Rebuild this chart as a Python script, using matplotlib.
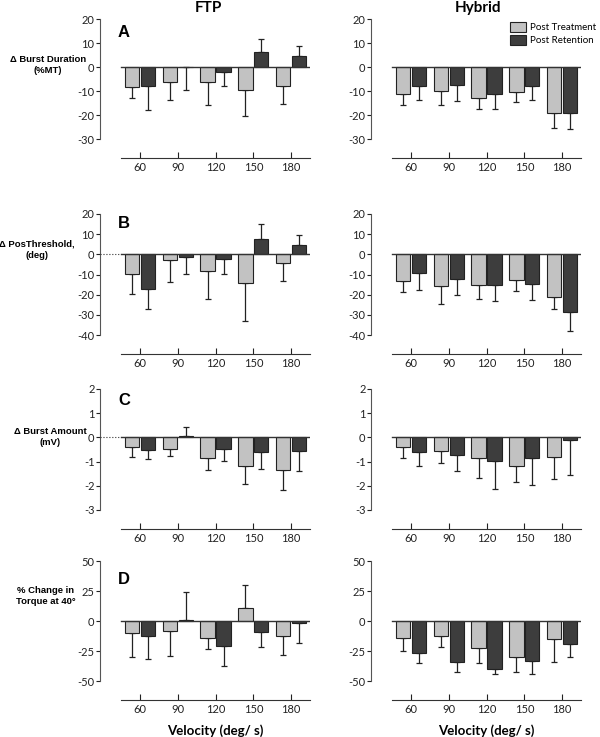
import numpy as np
import matplotlib
matplotlib.use('Agg')
import matplotlib.pyplot as plt
from matplotlib.patches import Patch

plt.rcParams['axes.unicode_minus'] = False

velocity = [60, 90, 120, 150, 180]

# A - burst duration (%MT), mean and SD
dur_ftp_treat = [-8.2, -6.4, -6.4, -9.7, -7.9]
dur_ftp_treat_sd = [4.5, 7.5, 9.3, 10.9, 7.7]
dur_ftp_ret = [-7.9, -0.2, -2.1, 6.2, 4.4]
dur_ftp_ret_sd = [9.8, 9.2, 5.9, 5.6, 4.5]
dur_hyb_treat = [-11.4, -10.0, -12.7, -10.5, -19.0]
dur_hyb_treat_sd = [4.3, 5.7, 4.6, 4.2, 6.5]
dur_hyb_ret = [-7.9, -7.5, -11.2, -8.0, -19.0]
dur_hyb_ret_sd = [5.7, 6.6, 6.1, 5.6, 7.0]

# B - pos threshold (deg)
thr_ftp_treat = [-9.5, -3.0, -8.5, -14.4, -4.5]
thr_ftp_treat_sd = [10.2, 10.9, 13.7, 18.8, 8.8]
thr_ftp_ret = [-17.4, -1.5, -2.2, 7.8, 4.5]
thr_ftp_ret_sd = [9.5, 8.4, 7.3, 7.1, 5.0]
thr_hyb_treat = [-13.4, -15.6, -15.4, -12.8, -21.1]
thr_hyb_treat_sd = [5.3, 9.1, 6.5, 5.6, 5.8]
thr_hyb_ret = [-9.1, -12.3, -15.1, -14.8, -28.4]
thr_hyb_ret_sd = [8.5, 8.1, 7.8, 7.6, 9.6]

# C - burst amount (mV)
amt_ftp_treat = [-0.41, -0.47, -0.86, -1.20, -1.37]
amt_ftp_treat_sd = [0.42, 0.32, 0.47, 0.72, 0.81]
amt_ftp_ret = [-0.54, 0.04, -0.48, -0.59, -0.55]
amt_ftp_ret_sd = [0.37, 0.37, 0.50, 0.71, 0.85]
amt_hyb_treat = [-0.41, -0.57, -0.86, -1.20, -0.83]
amt_hyb_treat_sd = [0.43, 0.51, 0.83, 0.66, 0.90]
amt_hyb_ret = [-0.62, -0.73, -0.97, -0.87, -0.12]
amt_hyb_ret_sd = [0.55, 0.65, 1.17, 1.12, 1.44]

# D - % change in torque at 40 deg
trq_ftp_treat = [-10.0, -8.6, -13.9, 10.6, -12.2]
trq_ftp_treat_sd = [20.3, 20.8, 9.7, 19.7, 15.9]
trq_ftp_ret = [-12.2, 0.5, -20.6, -8.9, -1.5]
trq_ftp_ret_sd = [19.8, 23.7, 16.6, 12.5, 16.8]
trq_hyb_treat = [-13.9, -12.2, -22.5, -29.7, -14.7]
trq_hyb_treat_sd = [11.4, 9.2, 12.2, 13.1, 19.2]
trq_hyb_ret = [-26.4, -33.9, -40.3, -33.1, -18.9]
trq_hyb_ret_sd = [8.3, 8.3, 3.6, 10.8, 10.8]

light = '#c2c2c2'
dark = '#3d3d3d'
edge = '#222222'
W, H = 600, 737

fig = plt.figure(figsize=(W / 100, H / 100), dpi=100)

def px_axes(left, top, right, bottom):
    return fig.add_axes([left / W, 1 - bottom / H, (right - left) / W, (bottom - top) / H])

# layout per row: axes top px, bottom px, yticks, ylim bottom, letter, letter top px, dotted zero
rows = [
    (19, 158, [-30, -20, -10, 0, 10, 20], -37.9, 'A', 25, False),
    (214, 354, [-40, -30, -20, -10, 0, 10, 20], -49.4, 'B', 216, True),
    (389, 529, [-3, -2, -1, 0, 1, 2], -3.79, 'C', 393, True),
    (561, 700, [-50, -25, 0, 25, 50], -65.8, 'D', 572, False),
]
data = [
    [(dur_ftp_treat, dur_ftp_treat_sd, dur_ftp_ret, dur_ftp_ret_sd),
     (dur_hyb_treat, dur_hyb_treat_sd, dur_hyb_ret, dur_hyb_ret_sd)],
    [(thr_ftp_treat, thr_ftp_treat_sd, thr_ftp_ret, thr_ftp_ret_sd),
     (thr_hyb_treat, thr_hyb_treat_sd, thr_hyb_ret, thr_hyb_ret_sd)],
    [(amt_ftp_treat, amt_ftp_treat_sd, amt_ftp_ret, amt_ftp_ret_sd),
     (amt_hyb_treat, amt_hyb_treat_sd, amt_hyb_ret, amt_hyb_ret_sd)],
    [(trq_ftp_treat, trq_ftp_treat_sd, trq_ftp_ret, trq_ftp_ret_sd),
     (trq_hyb_treat, trq_hyb_treat_sd, trq_hyb_ret, trq_hyb_ret_sd)],
]
ylabels = [
    ('\u0394 Burst Duration\n(%MT)', 48, 65),
    ('\u0394 PosThreshold,\n(deg)', 37, 250),
    ('\u0394 Burst Amount\n(mV)', 50, 437),
    ('% Change in\nTorque at 40\u00b0', 46, 596),
]
cols = [(100, 310), (371, 581)]
XLIM = (-1.06, 4.5)

x = np.arange(len(velocity))
axes = []
for r, (top, bot, yt, ybot, letter, ltop, dotted) in enumerate(rows):
    for c, (left, right) in enumerate(cols):
        ax = px_axes(left, top, right, bot)
        axes.append(ax)
        treat, treat_sd, ret, ret_sd = data[r][c]
        for vals, sds, off, col in ((treat, treat_sd, -0.21, light), (ret, ret_sd, 0.21, dark)):
            vals = np.array(vals)
            sds = np.array(sds)
            lower = np.where(vals < 0, sds, 0)
            upper = np.where(vals >= 0, sds, 0)
            ax.errorbar(x + off, vals, yerr=[lower, upper], fmt='none', ecolor=edge,
                        elinewidth=0.9, capsize=2.5, capthick=0.9, zorder=1)
            ax.bar(x + off, vals, width=0.38, color=col, edgecolor=edge, linewidth=0.8, zorder=2)
        ax.plot([-0.5, 4.5], [0, 0], color='#333333', lw=1.0, zorder=3)
        if dotted and c == 0:
            ax.plot([XLIM[0], -0.5], [0, 0], color='#333333', lw=0.8, ls=':', zorder=3)
        ax.set_xlim(*XLIM)
        ax.set_ylim(ybot, yt[-1])
        ax.set_yticks(yt)
        ax.set_xticks(x)
        ax.set_xticklabels(velocity)
        for s in ('top', 'right'):
            ax.spines[s].set_visible(False)
        ax.spines['left'].set_bounds(yt[0], yt[-1])
        ax.spines['bottom'].set_bounds(-0.5, 4.5)
        ax.spines['left'].set_color('#555555')
        ax.spines['bottom'].set_color('#333333')
        ax.tick_params(axis='y', direction='out', length=3, width=0.8, pad=1,
                       labelsize=8, colors='#222222')
        ax.tick_params(axis='x', direction='in', length=4, width=0.8, pad=3,
                       labelsize=8, colors='#222222')
        for lab in ax.get_xticklabels() + ax.get_yticklabels():
            lab.set_family('Lato')
        if c == 0:
            ax.text(18 / 210, 1 - (ltop - top) / (bot - top), letter, transform=ax.transAxes,
                    ha='left', va='top', fontsize=12, fontweight='bold', family='Liberation Sans')
        if r == 3:
            xc = (2 - XLIM[0]) / (XLIM[1] - XLIM[0])
            ax.text(xc, 1 - (731 - top) / (bot - top), 'Velocity (deg/ s)', transform=ax.transAxes,
                    ha='center', va='center', fontsize=9.5, fontweight='bold', family='Lato')

for text, px, py in ylabels:
    fig.text(px / W, 1 - py / H, text, ha='center', va='center', fontsize=6.8,
             fontweight='bold', family='Liberation Sans', linespacing=1.35)

fig.text(208 / W, 1 - 1 / H, 'FTP', ha='center', va='top', fontsize=11,
         fontweight='bold', family='Lato')
fig.text(478 / W, 1 - 1 / H, 'Hybrid', ha='center', va='top', fontsize=11,
         fontweight='bold', family='Lato')

handles = [Patch(facecolor=light, edgecolor=edge, linewidth=0.8, label='Post Treatment'),
           Patch(facecolor=dark, edgecolor=edge, linewidth=0.8, label='Post Retention')]
leg = axes[1].legend(handles=handles, loc='upper left', bbox_to_anchor=((510 - 371) / 210, 1 - 3 / 139),
                     frameon=False, borderaxespad=0, borderpad=0, handlelength=1.6,
                     handleheight=1.2, handletextpad=0.5, labelspacing=0.25,
                     prop={'family': 'Lato', 'size': 7})

fig.savefig('out.png', dpi=100)
